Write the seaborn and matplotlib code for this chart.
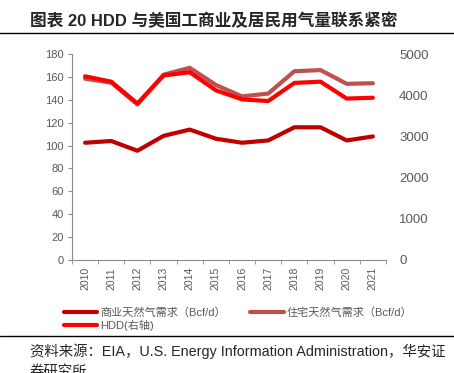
import numpy as np
import pandas as pd
import matplotlib
matplotlib.use("Agg")
import matplotlib.pyplot as plt
from matplotlib.lines import Line2D
import seaborn as sns

# Data
years = ["2010", "2011", "2012", "2013", "2014", "2015",
         "2016", "2017", "2018", "2019", "2020", "2021"]
commercial = [102.5, 104, 95.5, 108.5, 114, 106, 102.5, 104.5, 116, 116, 104.5, 108]
residential = [158.5, 155, 136, 162, 168, 153, 143, 145.5, 165, 166, 154, 154.5]
hdd = [4460, 4330, 3800, 4480, 4560, 4120, 3900, 3860, 4300, 4330, 3920, 3940]

left_ticks = list(range(0, 181, 20))
right_ticks = list(range(0, 5001, 1000))

df = pd.DataFrame({"pos": np.arange(len(years)), "year": years,
                   "commercial": commercial, "residential": residential, "hdd": hdd})

sns.set_style("white")
plt.rcParams["font.family"] = ["Liberation Sans", "Noto Sans CJK SC", "DejaVu Sans"]

c_com = "#C00000"
c_res = "#C0504D"
c_hdd = "#FF0000"
gray = "#8C8C8C"
txt = "#595959"

fig = plt.figure(figsize=(4.54, 3.73), dpi=100)
ax = fig.add_axes([0.1586, 0.303, 0.6915, 0.552])
ax2 = ax.twinx()

sns.lineplot(data=df, x="pos", y="commercial", ax=ax, color=c_com, linewidth=3, legend=False)
sns.lineplot(data=df, x="pos", y="residential", ax=ax, color=c_res, linewidth=3, legend=False)
sns.lineplot(data=df, x="pos", y="hdd", ax=ax2, color=c_hdd, linewidth=3, legend=False)

for a in (ax, ax2):
    for s in a.spines.values():
        s.set_visible(False)
ax.spines["left"].set_visible(True)
ax.spines["bottom"].set_visible(True)
ax.spines["left"].set_color(gray)
ax.spines["bottom"].set_color(gray)

ax.set_xlim(-0.5, len(years) - 0.5)
ax.set_ylim(0, 180)
ax.set_yticks(left_ticks)
ax.tick_params(axis="y", left=True, length=3, color=gray, labelsize=8, labelcolor=txt, pad=3)
ax.set_xticks(df["pos"])
ax.set_xticklabels(years, rotation=90)
ax.set_xticks(np.arange(-0.5, len(years), 1), minor=True)
ax.tick_params(axis="x", which="major", length=0, labelsize=7.5, labelcolor=txt, pad=5)
ax.tick_params(axis="x", which="minor", bottom=True, length=3, color=gray)
ax.set_xlabel("")
ax.set_ylabel("")

ax2.set_ylim(0, 5000)
ax2.set_yticks(right_ticks)
ax2.tick_params(axis="y", right=False, labelsize=9.5, labelcolor=txt, pad=6)
ax2.set_ylabel("")

# Legend (column-major order: commercial & HDD in col 1, residential in col 2)
handles = [Line2D([], [], color=c_com, linewidth=3),
           Line2D([], [], color=c_hdd, linewidth=3),
           Line2D([], [], color=c_res, linewidth=3)]
labels = ["商业天然气需求（Bcf/d）", "HDD(右轴)", "住宅天然气需求（Bcf/d）"]
fig.legend(handles, labels, ncol=2, loc="upper left", bbox_to_anchor=(0.128, 0.19),
           frameon=False, fontsize=8, handlelength=3.0, handletextpad=0.3,
           columnspacing=2.2, labelspacing=0.15, borderpad=0, labelcolor=txt)

# Title, rules and source
fig.text(0.066, 0.945, "图表 20 HDD 与美国工商业及居民用气量联系紧密", fontsize=12,
         fontweight="bold", va="center", ha="left")
fig.add_artist(Line2D([0, 1], [0.911, 0.911], color="black", linewidth=1))
fig.add_artist(Line2D([0, 1], [0.100, 0.100], color="black", linewidth=1))
fig.text(0.066, 0.059, "资料来源：EIA，U.S. Energy Information Administration，华安证",
         fontsize=10.4, va="center", ha="left")
fig.text(0.066, 0.003, "券研究所", fontsize=10.4, va="center", ha="left")

fig.savefig("out.png", dpi=100)
